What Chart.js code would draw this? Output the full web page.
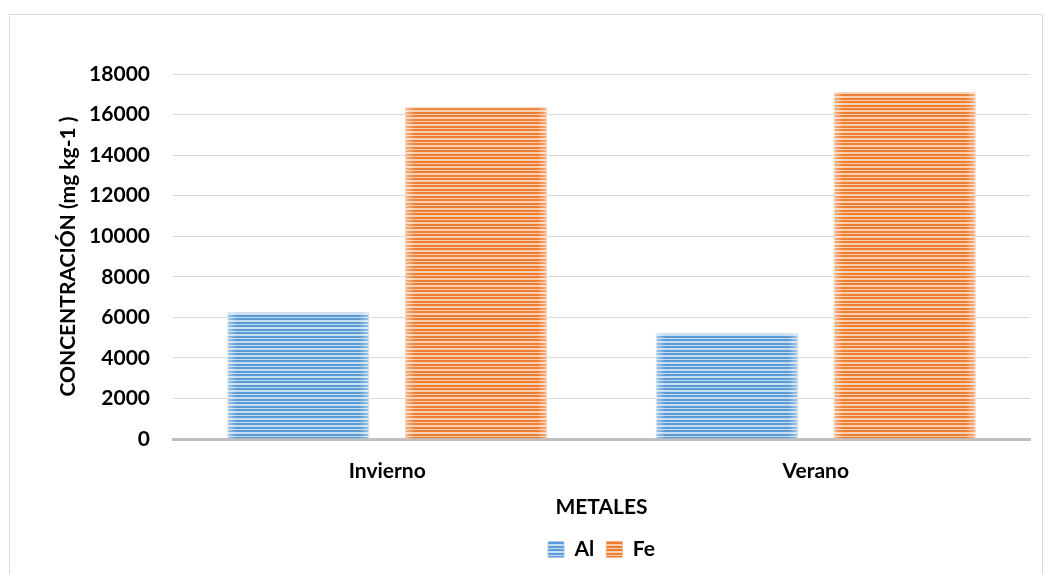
<!DOCTYPE html>
<html>
<head>
<meta charset="utf-8">
<script src="https://cdn.jsdelivr.net/npm/chart.js@4/dist/chart.umd.min.js"></script>
<style>
  html, body { margin: 0; padding: 0; background: #fff; }
  #frame {
    position: absolute; left: 9px; top: 14px; width: 1034px; height: 600px;
    border: 1px solid #d9d9d9; box-sizing: border-box;
  }
  #wrap { position: absolute; left: 0; top: 0; width: 1052px; height: 574px; }
</style>
</head>
<body>
<div id="frame"></div>
<div id="wrap"><canvas id="chart" width="1052" height="574"></canvas></div>
<script>
/* Concentración de metales por temporada */

const temporadas = ['Invierno', 'Verano'];
const valoresAl = [6250, 5210];
const valoresFe = [16360, 17100];
const ticksY = [0, 2000, 4000, 6000, 8000, 10000, 12000, 14000, 16000, 18000];

const FONT = 'Lato, "Open Sans", sans-serif';
const labelFont = { family: FONT, size: 21, weight: 'bold' };

// striped fill like the Excel "narrow horizontal" pattern
function stripes(dark, light) {
  const c = document.createElement('canvas');
  c.width = 4; c.height = 7;
  const g = c.getContext('2d');
  g.fillStyle = light;
  g.fillRect(0, 0, 4, 7);
  g.fillStyle = dark;
  g.fillRect(0, 0, 4, 2);
  g.fillRect(0, 3, 4, 2);
  return g.createPattern(c, 'repeat');
}

// soft light edges on the left and right side of every bar
const barGlow = {
  id: 'barGlow',
  afterDatasetsDraw(chart) {
    const ctx = chart.ctx;
    chart.data.datasets.forEach((ds, i) => {
      chart.getDatasetMeta(i).data.forEach(bar => {
        const left = bar.x - bar.width / 2;
        const right = bar.x + bar.width / 2;
        const top = bar.y;
        const h = bar.base - bar.y;
        const w = 10;
        let gr = ctx.createLinearGradient(left, 0, left + w, 0);
        gr.addColorStop(0, 'rgba(255,255,255,0.45)');
        gr.addColorStop(1, 'rgba(255,255,255,0)');
        ctx.fillStyle = gr;
        ctx.fillRect(left, top, w, h);
        gr = ctx.createLinearGradient(right - w, 0, right, 0);
        gr.addColorStop(0, 'rgba(255,255,255,0)');
        gr.addColorStop(1, 'rgba(255,255,255,0.45)');
        ctx.fillStyle = gr;
        ctx.fillRect(right - w, top, w, h);
      });
    });
  }
};

new Chart(document.getElementById('chart'), {
  type: 'bar',
  data: {
    labels: temporadas,
    datasets: [
      {
        label: 'Al',
        data: valoresAl,
        backgroundColor: stripes('#5b9bd5', '#c6dcf1'),
        borderColor: '#a9c8e8',
        borderWidth: 1,
        categoryPercentage: 0.83,
        barPercentage: 0.8
      },
      {
        label: 'Fe',
        data: valoresFe,
        backgroundColor: stripes('#ed7d31', '#f9cfb2'),
        borderColor: '#f4b183',
        borderWidth: 1,
        categoryPercentage: 0.83,
        barPercentage: 0.8
      }
    ]
  },
  options: {
    responsive: false,
    animation: false,
    layout: { padding: { left: 56, right: 22, top: 74, bottom: 4 } },
    plugins: {
      legend: {
        position: 'bottom',
        fullSize: false,
        labels: {
          color: '#000',
          font: labelFont,
          boxWidth: 16,
          boxHeight: 16,
          padding: 12
        }
      },
      tooltip: { enabled: false }
    },
    scales: {
      x: {
        afterFit(scale) {
          scale.height = 88;
        },
        grid: { display: false, drawTicks: false },
        border: { color: '#bfbfbf', width: 3 },
        ticks: {
          color: '#000',
          padding: 20,
          font: labelFont
        },
        title: {
          display: true,
          text: 'METALES',
          color: '#000',
          padding: { top: 0, bottom: 7 },
          font: labelFont
        }
      },
      y: {
        min: 0,
        max: 18000,
        afterBuildTicks(scale) {
          scale.ticks = ticksY.map(v => ({ value: v }));
        },
        afterFit(scale) {
          scale.width = 117;
        },
        grid: { color: '#d9d9d9', lineWidth: 1, drawTicks: false },
        border: { display: false },
        ticks: {
          color: '#000',
          padding: 23,
          font: labelFont,
          callback: v => String(v)
        },
        title: {
          display: true,
          text: 'CONCENTRACIÓN (mg kg-1 )',
          color: '#000',
          padding: 0,
          font: labelFont
        }
      }
    }
  },
  plugins: [barGlow]
});
</script>
</body>
</html>
